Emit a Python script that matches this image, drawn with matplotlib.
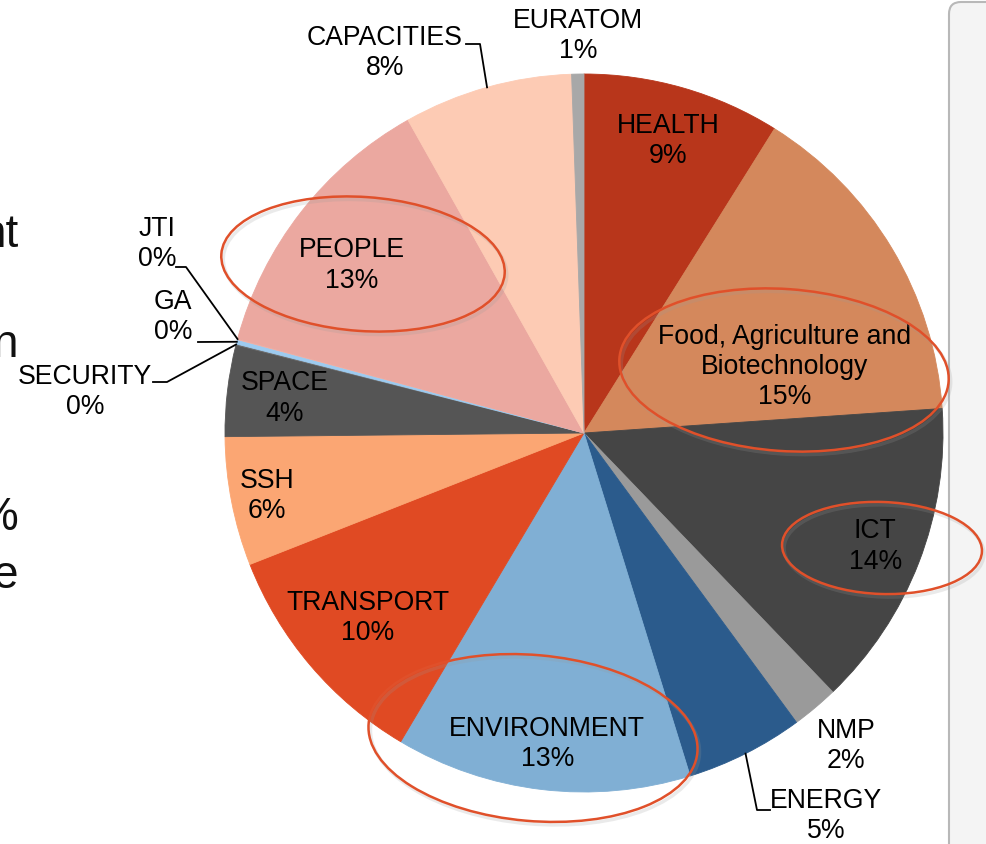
import numpy as np
import matplotlib
matplotlib.use('Agg')
import matplotlib.pyplot as plt
from matplotlib.patches import Ellipse, FancyBboxPatch

plt.rcParams['font.family'] = ['Liberation Sans', 'DejaVu Sans']

# FP7 budget shares, clockwise from 12 o'clock
themes = ['HEALTH', 'Food, Agriculture and\nBiotechnology', 'ICT', 'NMP', 'ENERGY',
          'ENVIRONMENT', 'TRANSPORT', 'SSH', 'SPACE', 'SECURITY', 'GA', 'JTI',
          'PEOPLE', 'CAPACITIES', 'EURATOM']
shares = [8.9, 15.0, 13.9, 2.1, 5.3, 13.3, 10.5, 5.8, 4.1, 0.05, 0.2, 0.05, 12.6, 7.6, 0.55]
pct_labels = ['9%', '15%', '14%', '2%', '5%', '13%', '10%', '6%', '4%', '0%', '0%', '0%',
              '13%', '8%', '1%']
colors = ['#B8361B', '#D4885C', '#454545', '#9A9A9A', '#2B5B8C', '#80AFD4', '#E04A23',
          '#FBA673', '#555555', '#6A6A6A', '#9DCBF0', '#F0B0A5', '#EBA8A0', '#FDCBB4',
          '#A8A8A8']

W, H = 986, 845
def py(y):
    # image pixel row -> data y
    return H - y

fig = plt.figure(figsize=(W / 100, H / 100), dpi=100)
ax = fig.add_axes([0, 0, 1, 1])

cx, cy, R = 584, py(434), 359
wedges, _ = ax.pie(shares, colors=colors, startangle=90, counterclock=False,
                   center=(cx, cy), radius=R)
for w in wedges:
    w.set_edgecolor(w.get_facecolor())
    w.set_linewidth(0.6)

def mid_angle(w):
    return np.deg2rad((w.theta1 + w.theta2) / 2)

fs = 19.2
ls = 1.22
# labels inside the slices: (index, radius fraction, angle shift in degrees)
inside = [(0, 0.85, 0), (1, 0.59, -12.5), (2, 0.87, 0), (5, 0.87, 0), (6, 0.79, 0),
          (7, 0.90, 0), (8, 0.84, 0), (12, 0.80, 2)]
for i, rf, shift in inside:
    a = mid_angle(wedges[i]) + np.deg2rad(shift)
    ax.text(cx + rf * R * np.cos(a), cy + rf * R * np.sin(a),
            themes[i] + '\n' + pct_labels[i], ha='center', va='center',
            fontsize=fs, linespacing=ls, color='black')

# labels outside, in image pixel positions
outside = {14: (578, 36), 13: (385, 53), 3: (846, 746), 4: (826, 816),
           11: (157, 244), 10: (173, 317), 9: (85, 392)}
for i, (tx, ty) in outside.items():
    ax.text(tx, py(ty), themes[i] + '\n' + pct_labels[i], ha='center', va='center',
            fontsize=fs, linespacing=ls, color='black')

def rim(i, rf=1.0):
    a = mid_angle(wedges[i])
    return cx + rf * R * np.cos(a), cy + rf * R * np.sin(a)

# leader lines
lk = dict(color='black', lw=1.3)
ex, ey = rim(13)
ax.plot([466, 480, ex], [py(45), py(45), ey], **lk)
ex, ey = rim(4)
ax.plot([770, 757, ex], [py(811), py(811), ey], **lk)
ex, ey = rim(11)
ax.plot([176, 186, ex], [py(268), py(268), ey], **lk)
ex, ey = rim(10)
ax.plot([198, ex], [py(343), ey], **lk)
ex, ey = rim(9)
ax.plot([153, 167, ex], [py(383), py(383), ey], **lk)

# grey side panel on the right
ax.add_patch(FancyBboxPatch((949, -20), 80, H + 17,
                            boxstyle='round,pad=0,rounding_size=12',
                            facecolor='#F4F4F4', edgecolor='#B8B8B8', lw=1.5, zorder=3))

# red highlight ellipses
ell = [((363, 265), 284, 134, -4), ((784, 371), 330, 162, -4),
       ((882, 549), 200, 92, -2), ((533, 739), 330, 166, -5)]
for (ex, ey), w, h, ang in ell:
    ax.add_patch(Ellipse((ex + 2, py(ey) - 3), w, h, angle=ang, fill=False,
                         edgecolor='#999999', lw=2.5, alpha=0.2, zorder=4))
    ax.add_patch(Ellipse((ex, py(ey)), w, h, angle=ang, fill=False,
                         edgecolor='#E0502A', lw=1.8, zorder=5))

# cut-off slide text on the left edge
for txt, ty in [('nt', 247), ('n', 357), ('%', 530), ('e', 588)]:
    ax.text(18, py(ty), txt, ha='right', va='baseline', fontsize=33, color='#111111')

ax.set_xlim(0, W)
ax.set_ylim(0, H)
ax.set_aspect('equal')
ax.axis('off')

plt.savefig('out.png', dpi=100)
